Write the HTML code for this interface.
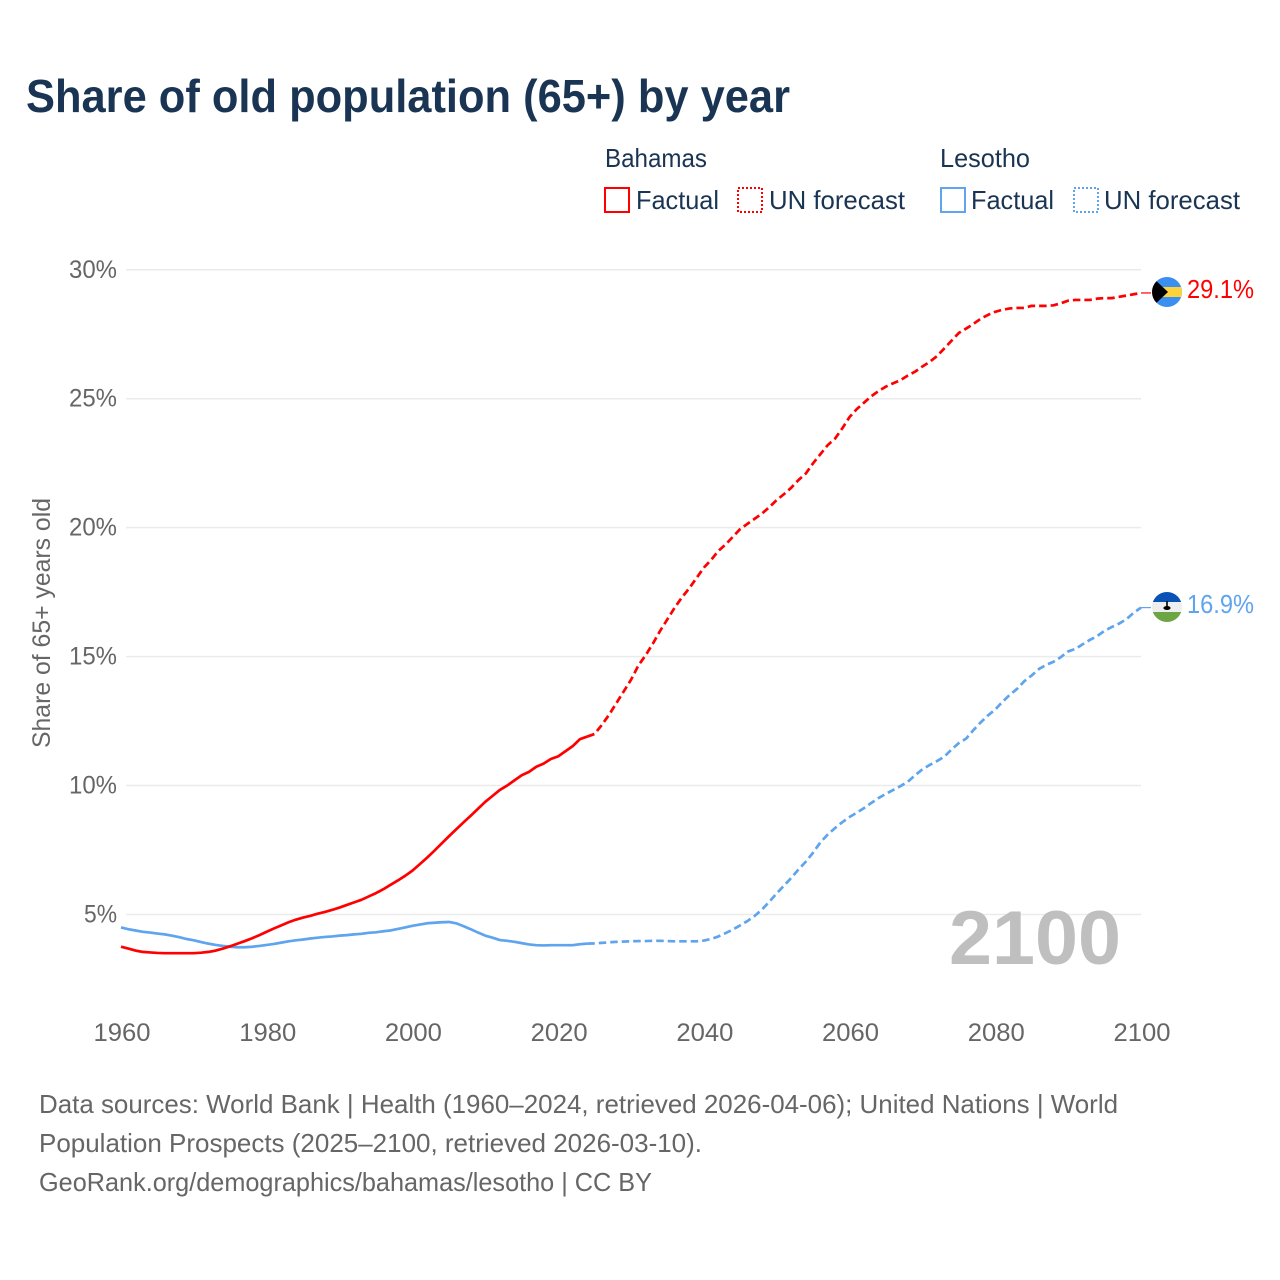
<!DOCTYPE html>
<html lang="en">
<head>
<meta charset="utf-8">
<title>Share of old population (65+) by year</title>
<style>
html,body{margin:0;padding:0;background:#fff;width:1280px;height:1280px;overflow:hidden}
svg{display:block;font-family:"Liberation Sans",sans-serif}
</style>
</head>
<body>
<svg id="chart" xmlns="http://www.w3.org/2000/svg" width="1280" height="1280" viewBox="0 0 1280 1280">
  <text x="26" y="112" font-size="46" font-weight="700" fill="#1a3453" textLength="764" lengthAdjust="spacingAndGlyphs">Share of old population (65+) by year</text>

  <g font-size="26" fill="#1a3453">
    <text x="605" y="167" textLength="102" lengthAdjust="spacingAndGlyphs">Bahamas</text>
    <rect x="605" y="188" width="24" height="24" fill="none" stroke="#ff0000" stroke-width="2"/>
    <text x="636" y="209" textLength="83" lengthAdjust="spacingAndGlyphs">Factual</text>
    <rect x="738" y="188" width="24" height="24" fill="none" stroke="#ff0000" stroke-width="2" stroke-dasharray="2 2"/>
    <text x="769" y="209" textLength="136" lengthAdjust="spacingAndGlyphs">UN forecast</text>

    <text x="940" y="167" textLength="90" lengthAdjust="spacingAndGlyphs">Lesotho</text>
    <rect x="941" y="188" width="24" height="24" fill="none" stroke="#5ea4ee" stroke-width="2"/>
    <text x="971" y="209" textLength="83" lengthAdjust="spacingAndGlyphs">Factual</text>
    <rect x="1074" y="188" width="24" height="24" fill="none" stroke="#5ea4ee" stroke-width="2" stroke-dasharray="2 2"/>
    <text x="1104" y="209" textLength="136" lengthAdjust="spacingAndGlyphs">UN forecast</text>
  </g>

  <g id="grid"></g>
  <g id="yticks"></g>
  <g id="xticks"></g>

  <text transform="translate(50,623) rotate(-90)" text-anchor="middle" font-size="25" fill="#666666" textLength="250" lengthAdjust="spacingAndGlyphs">Share of 65+ years old</text>

  <text x="949" y="964" font-size="76" font-weight="700" fill="#bfbfbf" textLength="172" lengthAdjust="spacingAndGlyphs">2100</text>

  <g id="series"></g>

  <defs>
    <clipPath id="flag-clip-bs"><circle cx="1167" cy="292" r="15"/></clipPath>
    <clipPath id="flag-clip-ls"><circle cx="1167" cy="607" r="15"/></clipPath>
  </defs>
  <g clip-path="url(#flag-clip-bs)">
    <rect x="1152" y="277" width="30" height="30" fill="#3a8ff0"/>
    <rect x="1152" y="287" width="30" height="10" fill="#fcd33a"/>
    <polygon points="1152,277 1168,292 1152,307" fill="#000"/>
  </g>
  <g clip-path="url(#flag-clip-ls)">
    <rect x="1152" y="592" width="30" height="10" fill="#0a52b5"/>
    <rect x="1152" y="602" width="30" height="10" fill="#eeeeee"/>
    <rect x="1152" y="612" width="30" height="10" fill="#6ea544"/>
    <rect x="1166.2" y="601" width="1.6" height="6" fill="#000"/>
    <ellipse cx="1167" cy="608" rx="3.6" ry="2" fill="#000"/>
  </g>

  <text id="end-bs" x="1187" y="298" font-size="26" fill="#ff0000" textLength="67" lengthAdjust="spacingAndGlyphs"></text>
  <text id="end-ls" x="1187" y="613" font-size="26" fill="#5ea4ee" textLength="67" lengthAdjust="spacingAndGlyphs"></text>

  <g font-size="26" fill="#666666">
    <text x="39" y="1113" textLength="1079" lengthAdjust="spacingAndGlyphs">Data sources: World Bank | Health (1960–2024, retrieved 2026-04-06); United Nations | World</text>
    <text x="39" y="1152" textLength="663" lengthAdjust="spacingAndGlyphs">Population Prospects (2025–2100, retrieved 2026-03-10).</text>
    <text x="39" y="1191" textLength="613" lengthAdjust="spacingAndGlyphs">GeoRank.org/demographics/bahamas/lesotho | CC BY</text>
  </g>
</svg>

<script>
var yTickValues = [5, 10, 15, 20, 25, 30];
var xTickValues = [1960, 1980, 2000, 2020, 2040, 2060, 2080, 2100];
var factualStartYear = 1960;
var forecastStartYear = 2025;

var bahamasFactual = [3.75,3.68,3.6,3.55,3.53,3.51,3.5,3.5,3.5,3.5,3.5,3.52,3.55,3.6,3.68,3.77,3.87,3.97,4.08,4.2,4.33,4.46,4.58,4.7,4.8,4.88,4.95,5.03,5.1,5.18,5.27,5.37,5.47,5.57,5.7,5.83,5.98,6.15,6.32,6.5,6.7,6.95,7.2,7.47,7.75,8.03,8.3,8.57,8.83,9.1,9.37,9.6,9.83,10.0,10.2,10.4,10.53,10.73,10.85,11.03,11.13,11.33,11.53,11.8,11.9];
var bahamasForecast = [12.0,12.35,12.75,13.2,13.65,14.1,14.65,15.05,15.5,16.0,16.45,16.9,17.3,17.65,18.05,18.45,18.75,19.1,19.35,19.65,19.95,20.15,20.35,20.55,20.8,21.07,21.3,21.55,21.85,22.1,22.5,22.85,23.2,23.45,23.85,24.29,24.6,24.85,25.1,25.3,25.47,25.6,25.72,25.9,26.05,26.25,26.43,26.65,26.95,27.25,27.55,27.72,27.9,28.1,28.25,28.37,28.45,28.5,28.52,28.52,28.6,28.6,28.6,28.62,28.7,28.8,28.83,28.83,28.83,28.88,28.9,28.9,28.95,29.0,29.05,29.1];

var lesothoFactual = [4.5,4.43,4.38,4.33,4.3,4.26,4.23,4.18,4.12,4.05,4.0,3.93,3.87,3.82,3.78,3.75,3.73,3.73,3.75,3.78,3.82,3.86,3.91,3.96,4.0,4.03,4.07,4.1,4.13,4.15,4.18,4.2,4.23,4.25,4.29,4.31,4.35,4.38,4.44,4.5,4.56,4.61,4.66,4.68,4.7,4.71,4.66,4.55,4.43,4.3,4.18,4.1,4.01,3.98,3.94,3.89,3.84,3.81,3.8,3.81,3.81,3.81,3.81,3.85,3.87];
var lesothoForecast = [3.88,3.9,3.92,3.94,3.95,3.96,3.97,3.97,3.98,3.98,3.97,3.96,3.96,3.96,3.96,3.99,4.05,4.15,4.28,4.42,4.58,4.75,4.95,5.2,5.5,5.82,6.12,6.42,6.75,7.05,7.4,7.8,8.1,8.35,8.58,8.78,8.95,9.13,9.33,9.52,9.68,9.83,9.98,10.15,10.4,10.63,10.8,10.95,11.12,11.4,11.65,11.82,12.15,12.45,12.72,12.95,13.25,13.52,13.75,14.05,14.27,14.52,14.68,14.8,14.98,15.2,15.3,15.48,15.65,15.8,16.0,16.15,16.28,16.45,16.7,16.9];

var NS = 'http://www.w3.org/2000/svg';
function xScale(year){ return 121 + (year - 1960) * 1020 / 140; }
function yScale(v){ return 914.5 - (v - 5) * 25.79; }

var grid = document.getElementById('grid');
var yG = document.getElementById('yticks');
var xG = document.getElementById('xticks');

yTickValues.forEach(function(v){
  var l = document.createElementNS(NS, 'line');
  
  
  l.setAttribute('x1', 126);
  l.setAttribute('x2', 1141);
  l.setAttribute('y1', yScale(v));
  l.setAttribute('y2', yScale(v));
  l.setAttribute('stroke', '#ebebeb');
  l.setAttribute('stroke-width', '1.5');
  grid.appendChild(l);

  var t = document.createElementNS(NS, 'text');
  
  
  t.setAttribute('x', 117);
  t.setAttribute('y', yScale(v) + 8);
  t.setAttribute('text-anchor', 'end');
  t.setAttribute('font-size', '25');
  t.setAttribute('fill', '#666666');
  t.setAttribute('textLength', v < 10 ? 33 : 48);
  t.setAttribute('lengthAdjust', 'spacingAndGlyphs');
  t.textContent = v + '%';
  yG.appendChild(t);
});

xTickValues.forEach(function(y){
  var t = document.createElementNS(NS, 'text');
  
  
  t.setAttribute('x', xScale(y) + 1);
  t.setAttribute('y', 1041);
  t.setAttribute('text-anchor', 'middle');
  t.setAttribute('font-size', '25');
  t.setAttribute('fill', '#666666');
  t.setAttribute('textLength', 57);
  t.setAttribute('lengthAdjust', 'spacingAndGlyphs');
  t.textContent = String(y);
  xG.appendChild(t);
});

function pointsFrom(values, startYear){
  return values.map(function(v, i){
    return xScale(startYear + i).toFixed(2) + ',' + yScale(v).toFixed(2);
  });
}

var seriesG = document.getElementById('series');
function drawLine(name, pts, color, dash){
  var p = document.createElementNS(NS, 'polyline');
  
  
  p.setAttribute('points', pts.join(' '));
  p.setAttribute('fill', 'none');
  p.setAttribute('stroke', color);
  p.setAttribute('stroke-width', '2.7');
  p.setAttribute('stroke-linejoin', 'round');
  if (dash) p.setAttribute('stroke-dasharray', dash);
  seriesG.appendChild(p);
}
function drawConnector(name, value, color){
  var c = document.createElementNS(NS, 'line');
  
  
  c.setAttribute('x1', xScale(2100));
  c.setAttribute('x2', 1151);
  c.setAttribute('y1', yScale(value));
  c.setAttribute('y2', yScale(value));
  c.setAttribute('stroke', color);
  c.setAttribute('stroke-width', '1.2');
  seriesG.appendChild(c);
}

var lsF = pointsFrom(lesothoFactual, factualStartYear);
var lsU = pointsFrom(lesothoForecast, forecastStartYear);
var bsF = pointsFrom(bahamasFactual, factualStartYear);
var bsU = pointsFrom(bahamasForecast, forecastStartYear);

drawLine('lesotho-forecast-line', [lsF[lsF.length - 1]].concat(lsU), '#5ea4ee', '7.5 4');
drawLine('lesotho-factual-line', lsF, '#5ea4ee');
drawLine('bahamas-forecast-line', [bsF[bsF.length - 1]].concat(bsU), '#ff0000', '7.5 4');
drawLine('bahamas-factual-line', bsF, '#ff0000');
drawConnector('lesotho-flag-connector', lesothoForecast[lesothoForecast.length - 1], '#5ea4ee');
drawConnector('bahamas-flag-connector', bahamasForecast[bahamasForecast.length - 1], '#ff0000');

document.getElementById('end-bs').textContent = bahamasForecast[bahamasForecast.length - 1].toFixed(1) + '%';
document.getElementById('end-ls').textContent = lesothoForecast[lesothoForecast.length - 1].toFixed(1) + '%';
</script>
</body>
</html>
